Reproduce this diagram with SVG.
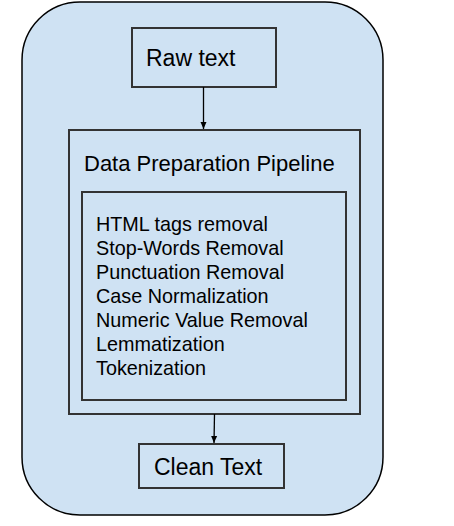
<svg xmlns="http://www.w3.org/2000/svg" width="454" height="526" viewBox="0 0 454 526">
<style>
text{font-family:"Liberation Sans",Arial,sans-serif;fill:#000}
.box{fill:#cfe2f3;stroke:#333;stroke-width:2}
.conn{stroke:#000;stroke-width:1.3;fill:none}
.big{font-size:23px}
.mid{font-size:22px}
.small{font-size:19.8px}
</style>
<defs>
<marker id="ah" markerWidth="8" markerHeight="8" refX="7" refY="4" orient="auto" markerUnits="userSpaceOnUse">
<path d="M0,1 L7,4 L0,7 Z" fill="#000"/>
</marker>
</defs>
<g id="container">
<rect x="22" y="2" width="361" height="513" rx="58" ry="58" fill="#cfe2f3" stroke="#000" stroke-width="1.5"/>
</g>
<g id="raw">
<rect class="box" x="132" y="28" width="144" height="59"/>
<text class="big" x="146" y="66">Raw text</text>
</g>
<g id="pipeline">
<rect class="box" x="69" y="130" width="291" height="284"/>
<text class="mid" x="84" y="171">Data Preparation Pipeline</text>
</g>
<g id="steps">
<rect class="box" x="82" y="192" width="264" height="208"/>
<text class="small" x="96" y="231">HTML tags removal</text>
<text class="small" x="96" y="255">Stop-Words Removal</text>
<text class="small" x="96" y="279">Punctuation Removal</text>
<text class="small" x="96" y="303">Case Normalization</text>
<text class="small" x="96" y="327">Numeric Value Removal</text>
<text class="small" x="96" y="351">Lemmatization</text>
<text class="small" x="96" y="375">Tokenization</text>
</g>
<g id="clean">
<rect class="box" x="139" y="444" width="145" height="44"/>
<text class="big" x="154" y="475">Clean Text</text>
</g>
<g id="connectors">
<line class="conn" x1="203.5" y1="87" x2="203.5" y2="129" marker-end="url(#ah)"/>
<line class="conn" x1="214.5" y1="414" x2="214" y2="443" marker-end="url(#ah)"/>
</g>
</svg>
